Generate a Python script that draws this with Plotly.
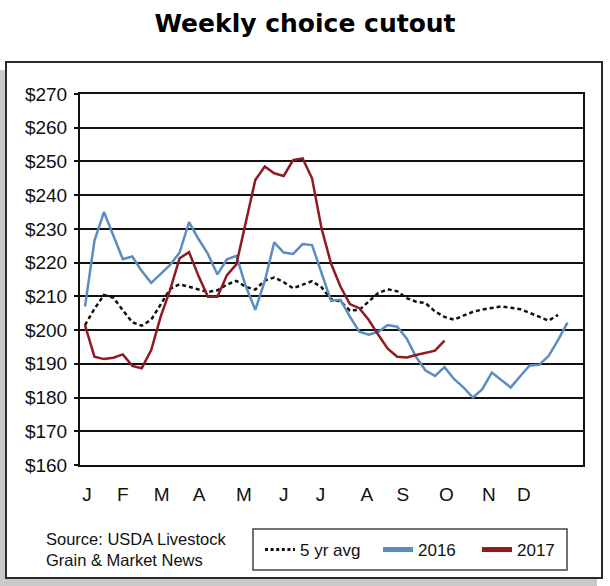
import plotly.graph_objects as go

# ---------------- data (weekly, $/cwt) ----------------
month_labels = ["J", "F", "M", "A", "M", "J", "J", "A", "S", "O", "N", "D"]
month_weeks = [1.2, 5.0, 9.1, 13.05, 17.8, 22.0, 25.9, 30.8, 34.6, 39.2, 43.7, 47.4]

avg5_values = [201.5, 206.3, 210.4, 209.6, 205.9, 202.3, 201.3, 203.1, 207.6, 212.2,
               213.6, 212.8, 212.0, 211.3, 211.8, 213.5, 214.6, 212.8, 212.0, 214.7,
               215.6, 214.2, 212.4, 213.5, 214.5, 212.7, 209.2, 208.5, 205.8, 206.0,
               208.6, 211.0, 212.1, 211.5, 209.5, 208.4, 208.0, 205.5, 203.9, 203.1,
               204.3, 205.4, 206.1, 206.6, 207.0, 206.6, 206.2, 205.1, 204.0, 202.8,
               204.5]

y2016_values = [207, 226.5, 235, 228, 221, 221.8, 217.5, 214, 216.7, 219.3,
                223, 232, 227, 222.5, 216.5, 221, 222, 213, 206, 214.5,
                226, 223, 222.6, 225.5, 225.2, 216.8, 208.7, 209, 204, 199.5,
                198.6, 199.5, 201.5, 201, 197.5, 192, 188, 186.4, 189, 185.5,
                183, 180, 182.5, 187.4, 185.2, 183, 186.3, 189.5, 189.7, 192.3,
                197, 202.2]

y2017_values = [201.5, 192.1, 191.4, 191.8, 192.8, 189.4, 188.7, 194.1, 204, 211.9,
                221.3, 223.1, 216, 209.9, 209.9, 216.3, 219.5, 231.7, 244.5, 248.5,
                246.5, 245.7, 250.4, 250.9, 245, 230.2, 219.8, 212.9, 207.7, 206.5,
                203, 198.6, 194.5, 192.1, 191.9, 192.6, 193.3, 193.9, 196.9]

series_names = ["5 yr avg", "2016", "2017"]
series_colors = ["#111111", "#5b8cc2", "#8e1a22"]

y_ticks = list(range(160, 271, 10))

weeks_avg = list(range(1, len(avg5_values) + 1))
weeks_2016 = list(range(1, len(y2016_values) + 1))
weeks_2017 = list(range(1, len(y2017_values) + 1))

# ---------------- figure ----------------
W, H = 610, 586
ML, MR, MT, MB = 80, 27, 94, 121
PW, PH = W - ML - MR, H - MT - MB


def px(x):
    return (x - ML) / PW


def py(y):
    return (H - MB - y) / PH


REG = "Liberation Sans, Arial, sans-serif"

fig = go.Figure()

fig.add_trace(go.Scatter(
    x=weeks_avg, y=avg5_values, mode="lines", name=series_names[0], showlegend=False,
    line=dict(color=series_colors[0], width=2.5, dash="4px,3px"),
))
fig.add_trace(go.Scatter(
    x=weeks_2016, y=y2016_values, mode="lines", name=series_names[1], showlegend=False,
    line=dict(color=series_colors[1], width=2.5),
))
fig.add_trace(go.Scatter(
    x=weeks_2017, y=y2017_values, mode="lines", name=series_names[2], showlegend=False,
    line=dict(color=series_colors[2], width=2.5),
))

# legend entries (symbols styled like the original key)
legend_styles = [dict(width=3, dash="3px,2.6px"), dict(width=5), dict(width=5)]
legend_ids = ["legend", "legend2", "legend3"]
for name, color, st, lid in zip(series_names, series_colors, legend_styles, legend_ids):
    fig.add_trace(go.Scatter(
        x=[None], y=[None], mode="lines", name=name, showlegend=True, legend=lid,
        line=dict(color=color, **st), hoverinfo="skip",
    ))

shapes = [
    # soft shadow behind the frame
    dict(type="rect", xref="paper", yref="paper", layer="below",
         x0=px(0), x1=px(597), y0=py(586), y1=py(70),
         fillcolor="#c9c9c9", line=dict(width=0)),
    # white framed panel
    dict(type="rect", xref="paper", yref="paper", layer="below",
         x0=px(6), x1=px(602), y0=py(578), y1=py(62),
         fillcolor="white", line=dict(color="#2a2a2a", width=2)),
    # legend box
    dict(type="rect", xref="paper", yref="paper", layer="above",
         x0=px(253), x1=px(567), y0=py(570), y1=py(529),
         fillcolor="rgba(0,0,0,0)", line=dict(color="#444444", width=1.5)),
]

legend_common = dict(
    orientation="h", xanchor="left", y=py(550), yanchor="middle",
    bgcolor="rgba(0,0,0,0)", borderwidth=0, itemwidth=30,
    font=dict(family=REG, size=17, color="#111111"),
)

fig.update_layout(
    width=W, height=H,
    margin=dict(l=ML, r=MR, t=MT, b=MB, pad=0),
    paper_bgcolor="white",
    plot_bgcolor="rgba(0,0,0,0)",
    font=dict(family=REG, color="#111111"),
    title=dict(
        text="<b>Weekly choice cutout</b>",
        x=0.5, xref="container", xanchor="center",
        y=1 - 23 / H, yref="container", yanchor="middle",
        font=dict(family="DejaVu Sans, sans-serif", size=25, color="#000000"),
    ),
    showlegend=True,
    legend=dict(x=px(260), **legend_common),
    legend2=dict(x=px(378), **legend_common),
    legend3=dict(x=px(477), **legend_common),
    shapes=shapes,
    annotations=[dict(
        text="Source: USDA Livestock<br>Grain &amp; Market News",
        xref="paper", yref="paper", x=px(44), y=py(549),
        xanchor="left", yanchor="middle", align="left", showarrow=False,
        font=dict(family=REG, size=16.5, color="#111111"),
    )],
)

fig.update_xaxes(
    range=[0.4715, 53.64],
    tickmode="array", tickvals=month_weeks, ticktext=month_labels,
    ticks="", showgrid=False, zeroline=False,
    showline=True, linecolor="#111111", linewidth=2, mirror=True,
    tickfont=dict(size=19, family=REG, color="#111111"),
    ticklabelstandoff=11,
)
fig.update_yaxes(
    range=[160, 270],
    tickmode="array", tickvals=y_ticks, ticktext=[f"${v}" for v in y_ticks],
    ticks="outside", ticklen=4, tickwidth=1.5, tickcolor="#111111",
    showgrid=True, gridcolor="#111111", gridwidth=2, zeroline=False,
    showline=True, linecolor="#111111", linewidth=2, mirror=True,
    tickfont=dict(size=19, family=REG, color="#111111"),
    ticklabelstandoff=3,
)

fig.write_html("out.html")
